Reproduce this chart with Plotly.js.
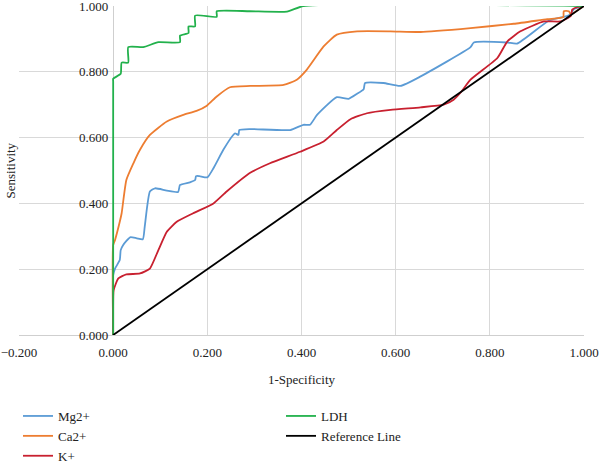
<!DOCTYPE html>
<html>
<head>
<meta charset="utf-8">
<script src="https://cdn.plot.ly/plotly-3.0.1.min.js"></script>
<style>html,body{margin:0;padding:0;background:#fff;}#chart{width:600px;height:463px;}</style>
</head>
<body>
<div id="chart"></div>
<script>
// Series names
var seriesNames = ["Mg2+", "Ca2+", "K+", "LDH", "Reference Line"];
var xTitle = "1-Specificity";
var yTitle = "Sensitivity";

// Mg2+ (1-Specificity, Sensitivity)
var mgX = [0, 0, 0.004, 0.014, 0.016, 0.021, 0.036, 0.05, 0.063, 0.067, 0.078, 0.089, 0.114, 0.138, 0.142, 0.163, 0.174, 0.176, 0.183, 0.2, 0.213, 0.234, 0.255, 0.259, 0.266, 0.268, 0.291, 0.376, 0.404, 0.418, 0.433, 0.475, 0.5, 0.518, 0.532, 0.535, 0.574, 0.61, 0.653, 0.759, 0.766, 0.837, 0.858, 0.926, 0.965, 0.972, 0.979, 1];
var mgY = [0, 0.182, 0.202, 0.228, 0.258, 0.273, 0.297, 0.294, 0.291, 0.329, 0.436, 0.446, 0.439, 0.435, 0.456, 0.464, 0.471, 0.483, 0.483, 0.479, 0.507, 0.563, 0.608, 0.613, 0.608, 0.623, 0.626, 0.623, 0.639, 0.639, 0.669, 0.723, 0.718, 0.733, 0.747, 0.766, 0.766, 0.757, 0.786, 0.875, 0.889, 0.889, 0.886, 0.956, 0.97, 0.976, 0.991, 1];

// Ca2+
var caX = [0, 0, 0.004, 0.014, 0.018, 0.028, 0.043, 0.057, 0.078, 0.114, 0.149, 0.177, 0.199, 0.22, 0.248, 0.291, 0.362, 0.39, 0.411, 0.447, 0.475, 0.518, 0.589, 0.653, 0.759, 0.851, 0.922, 0.956, 0.957, 0.968, 0.972, 0.986, 1];
var caY = [0, 0.273, 0.289, 0.344, 0.37, 0.471, 0.522, 0.563, 0.608, 0.649, 0.669, 0.681, 0.697, 0.725, 0.753, 0.757, 0.76, 0.776, 0.806, 0.877, 0.913, 0.923, 0.923, 0.921, 0.933, 0.946, 0.96, 0.966, 0.984, 0.984, 0.974, 0.987, 1];

// K+
var kX = [0, 0, 0.001, 0.011, 0.028, 0.057, 0.078, 0.096, 0.114, 0.135, 0.17, 0.213, 0.241, 0.291, 0.333, 0.397, 0.447, 0.475, 0.504, 0.539, 0.589, 0.653, 0.702, 0.723, 0.738, 0.759, 0.816, 0.837, 0.865, 0.915, 0.95, 0.972, 0.975, 0.986, 1];
var kY = [0, 0.075, 0.136, 0.172, 0.184, 0.187, 0.202, 0.258, 0.314, 0.344, 0.37, 0.4, 0.436, 0.493, 0.522, 0.557, 0.588, 0.623, 0.656, 0.674, 0.684, 0.692, 0.7, 0.715, 0.737, 0.776, 0.842, 0.892, 0.923, 0.953, 0.953, 0.97, 0.989, 0.997, 1];

// LDH
var ldhX = [0, 0, 0, 0.016, 0.018, 0.032, 0.032, 0.064, 0.096, 0.142, 0.142, 0.16, 0.16, 0.174, 0.174, 0.22, 0.22, 0.29, 0.369, 0.404, 1];
var ldhY = [0, 0.77, 0.779, 0.794, 0.828, 0.828, 0.875, 0.875, 0.89, 0.89, 0.91, 0.918, 0.938, 0.938, 0.971, 0.967, 0.984, 0.984, 0.983, 1, 1];

// Reference line
var refX = [0, 1];
var refY = [0, 1];

// Axis ticks
var xTicks = [-0.2, 0, 0.2, 0.4, 0.6, 0.8, 1.0];
var yTicks = [0, 0.2, 0.4, 0.6, 0.8, 1.0];

var colors = ["#5B9BD5", "#ED7D31", "#C8202F", "#22B14C", "#000000"];
var font = "'Liberation Serif', 'DejaVu Serif', serif";

function tr(i, x, y, legend, shape) {
  return {
    type: "scatter", mode: "lines", name: seriesNames[i], x: x, y: y,
    line: {color: colors[i], width: 1.8, shape: shape, smoothing: 0.5},
    legend: legend, hoverinfo: "skip"
  };
}

var data = [
  tr(0, mgX, mgY, "legend", "spline"),
  tr(1, caX, caY, "legend", "spline"),
  tr(2, kX, kY, "legend", "spline"),
  tr(3, ldhX, ldhY, "legend2", "spline"),
  tr(4, refX, refY, "legend2", "linear")
];

var layout = {
  width: 600, height: 463,
  margin: {l: 19, r: 16, t: 6, b: 128},
  paper_bgcolor: "#fff", plot_bgcolor: "#fff",
  font: {family: font, size: 13, color: "#222"},
  showlegend: true,
  xaxis: {
    range: [-0.2, 1], tickvals: xTicks, tickformat: ".3f",
    showgrid: true, gridcolor: "#d9d9d9", gridwidth: 1,
    zeroline: true, zerolinecolor: "#cfcfcf", zerolinewidth: 1,
    showline: true, linecolor: "#cfcfcf", linewidth: 1,
    ticks: "", ticklabelstandoff: 5, ticklabeloverflow: "allow",
    automargin: false,
    tickfont: {family: font, size: 13, color: "#222"},
    title: {text: xTitle, font: {family: font, size: 13, color: "#222"}, standoff: 16},
    fixedrange: true
  },
  yaxis: {
    range: [0, 1], tickvals: yTicks, tickformat: ".3f",
    anchor: "free", position: 0.2 / 1.2,
    showgrid: true, gridcolor: "#d9d9d9", gridwidth: 1,
    zeroline: false, showline: false, ticks: "",
    ticklabelstandoff: 5, ticklabeloverflow: "allow",
    automargin: false,
    tickfont: {family: font, size: 13, color: "#222"},
    fixedrange: true
  },
  annotations: [{
    text: yTitle, xref: "paper", yref: "paper",
    x: -9 / 565, y: 0.5, xanchor: "center", yanchor: "middle",
    textangle: -90, showarrow: false,
    font: {family: font, size: 13, color: "#222"}
  }],
  legend: {
    xref: "paper", yref: "container",
    x: -1 / 565, xanchor: "left", y: 1 - 401 / 463, yanchor: "top",
    orientation: "v", itemwidth: 30, font: {family: font, size: 13, color: "#222"},
    bgcolor: "rgba(0,0,0,0)", traceorder: "normal"
  },
  legend2: {
    xref: "paper", yref: "container",
    x: 262 / 565, xanchor: "left", y: 1 - 401 / 463, yanchor: "top",
    orientation: "v", itemwidth: 30, font: {family: font, size: 13, color: "#222"},
    bgcolor: "rgba(0,0,0,0)", traceorder: "normal"
  }
};

Plotly.newPlot("chart", data, layout, {displayModeBar: false, staticPlot: true});
</script>
</body>
</html>
